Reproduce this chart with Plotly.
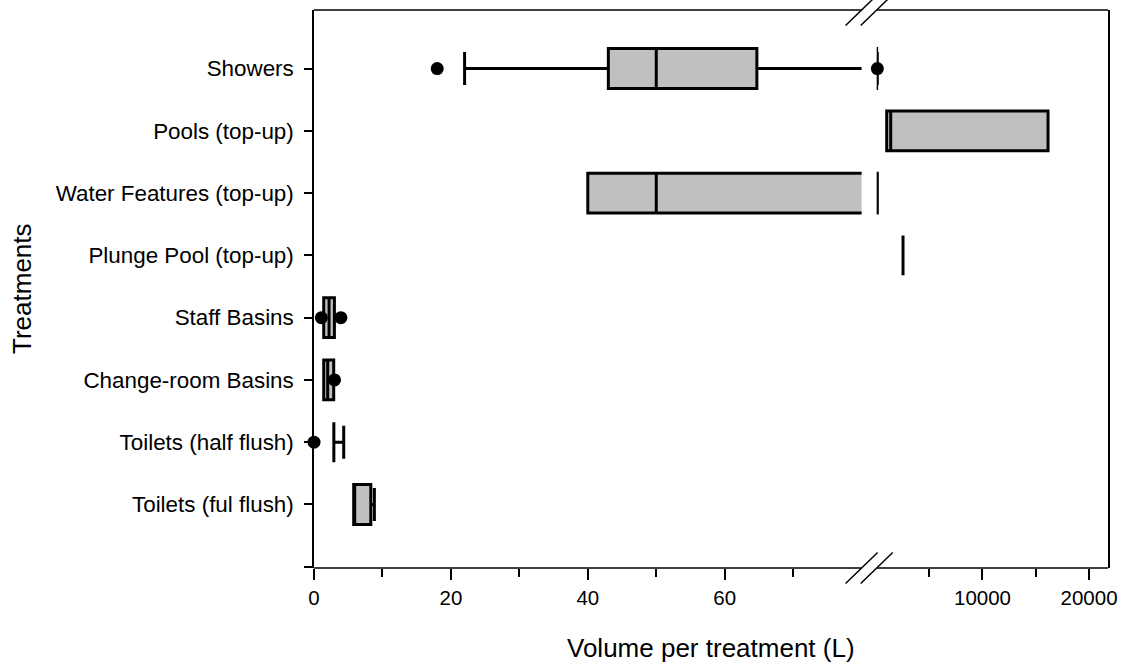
import plotly.graph_objects as go

# ---------------- data ----------------
categories = ["Showers", "Pools (top-up)", "Water Features (top-up)", "Plunge Pool (top-up)",
              "Staff Basins", "Change-room Basins", "Toilets (half flush)", "Toilets (ful flush)"]
lower_whisker = [22, 1008, 40, 2540, 1.42, 1.42, 2.9, 5.8]
q1 = [43, 1008, 40, 2540, 1.42, 1.42, 2.9, 5.8]
median = [50, 1385, 50, 2540, 2.2, 2.0, 2.9, 5.8]
q3 = [64.7, 16150, 125, 2540, 2.98, 2.88, 2.9, 8.3]
upper_whisker = [125, 16150, 125, 2540, 2.98, 2.88, 4.34, 8.82]
outliers = [[18, 130], [], [], [], [1.08, 3.93], [3.0], [0], []]

left_range = [0, 80]          # before the axis break
right_range = [70, 21780]     # after the axis break
left_ticks = [0, 20, 40, 60]
left_minor = [10, 30, 50, 70]
right_ticks = [10000, 20000]
right_minor = [5000, 15000]

x_title = "Volume per treatment (L)"
y_title = "Treatments"

# ---------------- layout constants ----------------
W, H = 1122, 664
ML, MR, MT, MB = 314, 14, 10, 96
PW, PH = W - ML - MR, H - MT - MB
d1 = (861.6 - ML) / PW
d2 = (876.7 - ML) / PW
FONT = "Liberation Sans, Arial, sans-serif"
GRAY = "#C0C0C0"

n = len(categories)
pos = [n - 1 - i for i in range(n)]

fig = go.Figure()


def add_boxes(idx, xa, ya):
    fig.add_trace(go.Box(
        y=[pos[i] for i in idx], q1=[q1[i] for i in idx], median=[median[i] for i in idx],
        q3=[q3[i] for i in idx], lowerfence=[lower_whisker[i] for i in idx],
        upperfence=[upper_whisker[i] for i in idx],
        orientation="h", width=0.64, whiskerwidth=0.83,
        fillcolor=GRAY, line=dict(color="black", width=3),
        boxpoints=False, showlegend=False, hoverinfo="skip",
        xaxis=xa, yaxis=ya,
    ))


# boxes reaching into each axis segment
left_idx = [i for i in range(n) if lower_whisker[i] < left_range[1]]
right_idx = [i for i in range(n) if upper_whisker[i] > left_range[1]]
add_boxes(left_idx, "x", "y")
add_boxes(right_idx, "x2", "y2")

# outlier points, placed on the segment whose range contains them
ox_l, oy_l, ox_r, oy_r = [], [], [], []
for p, vals in zip(pos, outliers):
    for v in vals:
        if v <= left_range[1]:
            ox_l.append(v); oy_l.append(p)
        else:
            ox_r.append(v); oy_r.append(p)
for xs, ys, xa, ya in ((ox_l, oy_l, "x", "y"), (ox_r, oy_r, "x2", "y2")):
    fig.add_trace(go.Scatter(
        x=xs, y=ys, mode="markers", cliponaxis=False,
        marker=dict(color="black", size=13, line=dict(width=0)),
        showlegend=False, hoverinfo="skip", xaxis=xa, yaxis=ya,
    ))

ax_x = dict(showline=False, showgrid=False, zeroline=False, automargin=False)
ax_y = dict(showline=True, linecolor="black", linewidth=1.5, showgrid=False,
            zeroline=False, automargin=False)
tickfont_x = dict(family=FONT, size=20.5, color="black")

fig.update_layout(
    width=W, height=H,
    margin=dict(l=ML, r=MR, t=MT, b=MB),
    paper_bgcolor="white", plot_bgcolor="white",
    font=dict(family=FONT, color="black"),
    xaxis=dict(domain=[0, d1], range=left_range, anchor="y",
               tickmode="array", tickvals=left_ticks, ticktext=[str(v) for v in left_ticks],
               ticks="outside", ticklen=11, tickwidth=1.5, tickcolor="black",
               minor=dict(tickmode="array", tickvals=left_minor, ticks="outside",
                          ticklen=8, tickwidth=1.5, tickcolor="black", showgrid=False),
               tickfont=tickfont_x, ticklabelstandoff=0, **ax_x),
    xaxis2=dict(domain=[d2, 1], range=right_range, anchor="y2",
                tickmode="array", tickvals=right_ticks, ticktext=[str(v) for v in right_ticks],
                ticks="outside", ticklen=11, tickwidth=1.5, tickcolor="black",
                minor=dict(tickmode="array", tickvals=right_minor, ticks="outside",
                           ticklen=8, tickwidth=1.5, tickcolor="black", showgrid=False),
                tickfont=tickfont_x, ticklabelstandoff=0, **ax_x),
    xaxis3=dict(overlaying="x", side="top", range=left_range, anchor="y",
                tickmode="array", tickvals=left_minor, showticklabels=False,
                ticks="inside", ticklen=7, tickwidth=1.5, tickcolor="black", **ax_x),
    xaxis4=dict(overlaying="x2", side="top", range=right_range, anchor="y2",
                tickmode="array", tickvals=right_minor, showticklabels=False,
                ticks="inside", ticklen=7, tickwidth=1.5, tickcolor="black", **ax_x),
    yaxis=dict(domain=[0, 1], range=[-1.02, 7.94], anchor="x",
               tickmode="array", tickvals=[-1] + pos, ticktext=[""] + categories,
               ticks="outside", ticklen=8, tickwidth=1.5, tickcolor="black",
               tickfont=dict(family=FONT, size=22.4, color="black"),
               ticklabelstandoff=6, **ax_y),
    yaxis2=dict(domain=[0, 1], range=[-1.02, 7.94], anchor="x2", matches="y",
                side="right", showticklabels=False, ticks="", **ax_y),
)

# axis titles (centered on the whole plotting area)
fig.add_annotation(text=x_title, xref="paper", yref="paper", x=0.5, y=-(80 / PH),
                   xanchor="center", yanchor="middle", showarrow=False,
                   font=dict(family=FONT, size=26, color="black"))
fig.add_annotation(text=y_title, xref="paper", yref="paper", x=(22 - ML) / PW, y=0.5,
                   xanchor="center", yanchor="middle", textangle=-90, showarrow=False,
                   font=dict(family=FONT, size=26, color="black"))

# frame lines along bottom and top, interrupted at the axis break
for yb in (0, 1):
    for xa0, xa1 in ((0, d1), (d2, 1)):
        fig.add_shape(type="line", xref="paper", yref="paper",
                      x0=xa0, y0=yb, x1=xa1, y1=yb,
                      line=dict(color="black", width=1.5), layer="above")

# axis-break marks "//" on the bottom and top frame lines
dx, dy = 16 / PW, 15.5 / PH
for yb in (0, 1):
    for xb in (d1, d2):
        fig.add_shape(type="line", xref="paper", yref="paper",
                      x0=xb - dx, y0=yb - dy, x1=xb + dx, y1=yb + dy,
                      line=dict(color="black", width=1.5), layer="above")

fig.write_html("out.html")
